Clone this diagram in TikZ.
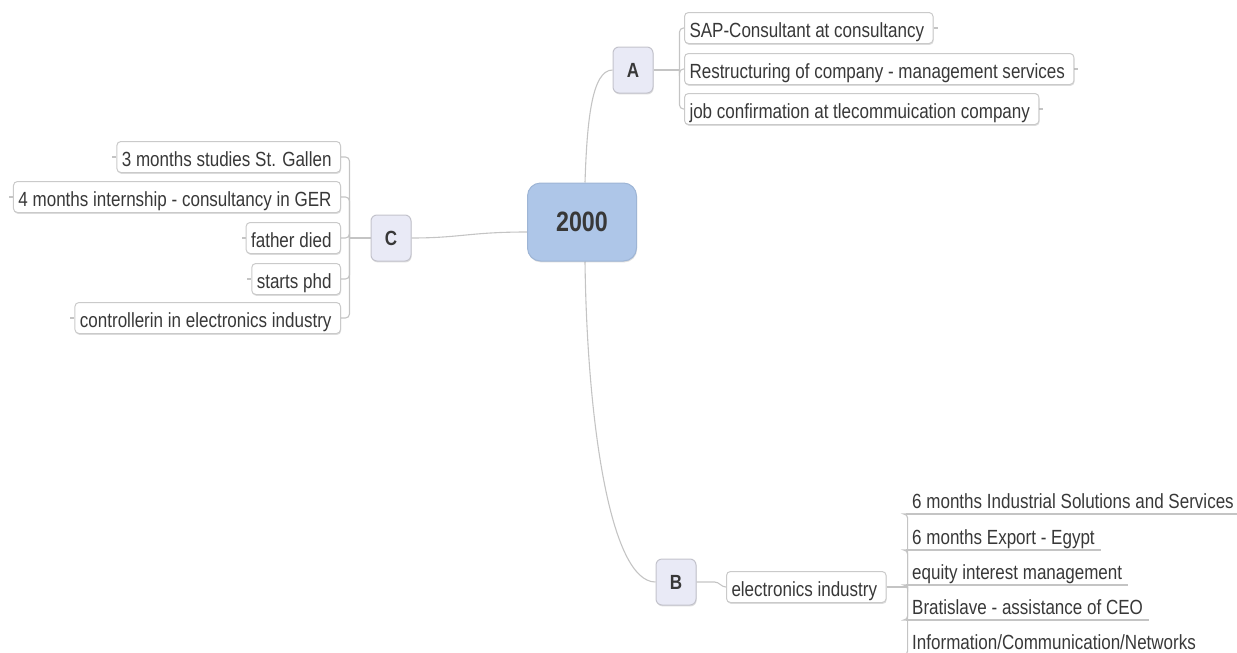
\documentclass[tikz,border=0pt]{standalone}
\usepackage{fontspec}
\newfontfamily\mapfont[FakeStretch=0.83]{Liberation Sans}
\usetikzlibrary{shadows,backgrounds}
\definecolor{ink}{HTML}{383838}
\definecolor{wire}{HTML}{C4C4C4}
\definecolor{rootfill}{HTML}{AEC6E8}
\definecolor{rootline}{HTML}{9EB5D5}
\definecolor{mainfill}{HTML}{E9EAF6}
\definecolor{mainline}{HTML}{C3C3CC}
\definecolor{boxline}{HTML}{CACACA}

\begin{document}
\begin{tikzpicture}[x=1pt,y=-1pt,
  font=\mapfont\fontsize{20.5}{23}\selectfont, text=ink,
  wire/.style={draw=wire, line width=1.1pt},
  softshadow/.style={drop shadow={shadow xshift=0.6pt, shadow yshift=-1.4pt, fill=black, opacity=0.13}},
  root/.style={draw=rootline, fill=rootfill, rounded corners=13pt, line width=1pt,
    minimum width=109pt, minimum height=78pt, inner sep=0pt, softshadow,
    font=\mapfont\bfseries\fontsize{28}{30}\selectfont},
  topic/.style={draw=mainline, fill=mainfill, rounded corners=6pt, line width=1pt,
    minimum width=40pt, minimum height=46pt, inner sep=0pt, softshadow,
    font=\mapfont\bfseries\fontsize{20.5}{23}\selectfont},
  leaf/.style={draw=boxline, fill=white, rounded corners=4pt, line width=1pt,
    inner xsep=5pt, inner ysep=4pt, text height=20.5pt, text depth=2.5pt, softshadow,
    execute at end node={\hspace{4pt}}},
  uleaf/.style={inner xsep=6pt, inner ysep=0pt, text height=15pt, text depth=5.5pt,
    anchor=south west},
]
\useasboundingbox (0,0) rectangle (1237,653);
\clip (0,0) rectangle (1237,653);

% central topic and main branches
\node[root]  (ctr) at (582,222) {2000};
\node[topic] (A) at (633,70)  {A};
\node[topic] (C) at (391,238) {C};
\node[topic] (B) at (676,582) {B};

% branch A
\node[leaf, anchor=west] (a1) at (684,28)  {SAP-Consultant at consultancy};
\node[leaf, anchor=west] (a2) at (684,69)  {Restructuring of company - management services};
\node[leaf, anchor=west] (a3) at (684,109) {job confirmation at tlecommuication company};

% branch C
\node[leaf, anchor=east] (c1) at (341,157) {3 months studies St. Gallen};
\node[leaf, anchor=east] (c2) at (341,197) {4 months internship - consultancy in GER};
\node[leaf, anchor=east] (c3) at (341,238) {father died};
\node[leaf, anchor=east] (c4) at (341,279) {starts phd};
\node[leaf, anchor=east] (c5) at (341,318) {controllerin in electronics industry};

% branch B
\node[leaf, anchor=west] (e) at (726,587) {electronics industry};
\node[uleaf] (b1) at (906,514) {6 months Industrial Solutions and Services};
\node[uleaf] (b2) at (906,550) {6 months Export - Egypt};
\node[uleaf] (b3) at (906,585) {equity interest management};
\node[uleaf] (b4) at (906,620) {Bratislave - assistance of CEO};
\node[uleaf] (b5) at (906,655) {Information/Communication/Networks};

\coordinate (aj) at ([xshift=26pt]A.east);
\coordinate (cj) at ([xshift=-21pt]C.west);
\coordinate (ej) at ([xshift=21pt]e.east);

\begin{pgfonlayer}{background}
  % curved links from the central topic
  \draw[wire] ([xshift=3pt]ctr.north) .. controls (587,120) and (592,70) .. (A.west);
  \draw[wire] ([xshift=3pt]ctr.south) .. controls (587,420) and (610,582) .. (B.west);
  \draw[wire] ([yshift=-10pt]ctr.west) .. controls (470,232) and (460,238) .. (C.east);

  % brackets of A
  \draw[wire] (A.east) -- (aj);
  \foreach \n in {a1,a2,a3} {
    \draw[wire, rounded corners=4pt] (aj) |- (\n.west);
    \draw[wire] (\n.east) -- ++(4,0);
  }

  % brackets of C
  \draw[wire] (C.west) -- (cj);
  \foreach \n in {c1,c2,c3,c4,c5} {
    \draw[wire, rounded corners=4pt] (cj) |- (\n.east);
    \draw[wire] (\n.west) -- ++(-4,0);
  }

  % B and its sub-branch
  \draw[wire] (B.east) -- ++(18,0) to[out=0,in=180] (e.west);
  \draw[wire] (e.east) -- (ej);
  \foreach \n in {b1,b2,b3,b4,b5} {
    \draw[wire, rounded corners=4pt] (ej) |- (\n.south west);
    \draw[wire] (\n.south west) -- (\n.south east);
  }
\end{pgfonlayer}
\end{tikzpicture}
\end{document}
